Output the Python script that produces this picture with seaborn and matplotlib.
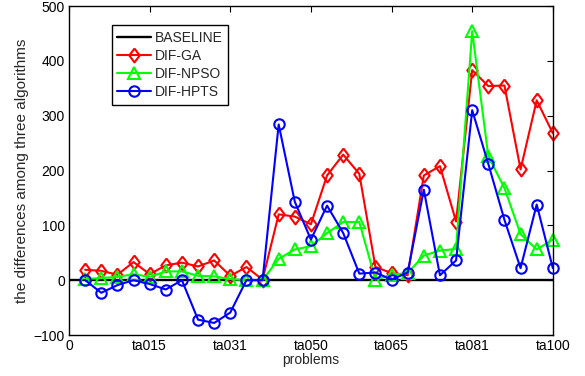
import numpy as np
import matplotlib
matplotlib.use("Agg")
import matplotlib.pyplot as plt
import seaborn as sns

sns.set_style("white")
plt.rcParams['font.family'] = ['Liberation Sans', 'DejaVu Sans']

# data
problem_index = np.arange(1, 31) * 100 / 30
dif_ga = [19, 17, 10, 33, 11, 27, 32, 25, 36, 8, 24, 1, 120, 116, 102, 191, 229, 194,
          24, 13, 9, 191, 208, 107, 383, 354, 355, 202, 328, 268]
dif_npso = [2, 4, 6, 11, 6, 16, 16, 8, 7, 2, 0, 0, 39, 56, 62, 86, 106, 106,
            1, 10, 13, 45, 54, 57, 454, 226, 168, 84, 56, 74]
dif_hpts = [0, -23, -9, 0, -7, -17, 0, -72, -78, -59, 0, 0, 284, 143, 74, 136, 86, 12,
            14, 1, 14, 165, 9, 36, 310, 212, 110, 22, 138, 22]
baseline_x = [0, 100]
baseline_y = [0, 0]
tick_labels = ['0', 'ta015', 'ta031', 'ta050', 'ta065', 'ta081', 'ta100']
ytick_vals = [-100, 0, 100, 200, 300, 400, 500]

# MATLAB-like diamond (taller than wide)
diamond = [(0, 1), (0.75, 0), (0, -1), (-0.75, 0), (0, 1)]

fig = plt.figure(figsize=(5.85, 3.76), dpi=100)
ax = fig.add_axes([0.118, 0.109, 0.827, 0.875])

sns.lineplot(x=baseline_x, y=baseline_y, color='black', lw=1.7, label='BASELINE', ax=ax)
common = dict(markerfacecolor='none', mew=1.5, lw=1.5, ax=ax, clip_on=False)
sns.lineplot(x=problem_index, y=dif_ga, color='red', marker=diamond, ms=10,
             markeredgecolor='red', label='DIF-GA', **common)
sns.lineplot(x=problem_index, y=dif_npso, color='#00ff00', marker='^', ms=9,
             markeredgecolor='#00ff00', label='DIF-NPSO', **common)
sns.lineplot(x=problem_index, y=dif_hpts, color='blue', marker='o', ms=7.5,
             markeredgecolor='blue', label='DIF-HPTS', **common)

ax.set_xlim(0, 100)
ax.set_ylim(-100, 500)
ax.set_xticks(np.linspace(0, 100, 7))
ax.set_xticklabels(tick_labels)
ax.set_yticks(ytick_vals)
ax.set_yticklabels([str(v).replace('-', '\u2212') for v in ytick_vals])
ax.tick_params(direction='in', top=True, right=True, length=4, width=0.8,
               labelsize=10, colors='black', pad=3)
for s in ax.spines.values():
    s.set_visible(True)
    s.set_color('black')
    s.set_linewidth(1)
ax.set_xlabel('problems', fontsize=10, labelpad=0)
ax.set_ylabel('the differences among three algorithms', fontsize=11, labelpad=3)

leg = ax.legend(loc='upper left', bbox_to_anchor=(0.074, 0.963), fontsize=10,
                frameon=True, fancybox=False, edgecolor='black', framealpha=1,
                handlelength=2.4, handletextpad=0.3, borderpad=0.4, labelspacing=0.3)
leg.get_frame().set_linewidth(1)

fig.savefig('out.png', dpi=100)
